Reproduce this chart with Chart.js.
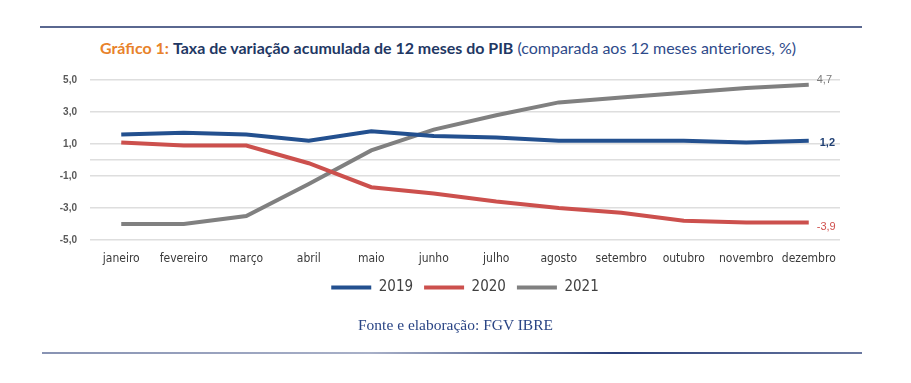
<!DOCTYPE html>
<html><head><meta charset="utf-8">
<script src="https://cdn.jsdelivr.net/npm/chart.js@4.4.0/dist/chart.umd.min.js"></script>
<style>
html,body{margin:0;padding:0;background:#fff;width:911px;height:383px;overflow:hidden}
#wrap{position:relative;width:911px;height:383px}
canvas{position:absolute;left:0;top:0}
.rule{position:absolute;height:2px}
#title{position:absolute;left:100px;top:40px;white-space:nowrap;font-family:Lato,'Open Sans',sans-serif;font-size:15px;line-height:16px}
#src{position:absolute;top:317px;white-space:nowrap;font-family:'Liberation Serif',serif;font-size:15px;line-height:16px;color:#2a4585;transform-origin:0 0}
</style></head>
<body><div id="wrap">
<div class="rule" style="left:40px;top:26px;width:822px;background:#5a6890"></div>
<div id="title"><span style="color:#e8822a;font-weight:bold">Gráfico 1:</span> <span style="color:#1f3864;font-weight:bold">Taxa de variação acumulada de 12 meses do PIB</span> <span style="color:#2e4a8a">(comparada aos 12 meses anteriores, %)</span></div>
<canvas id="c" width="911" height="383"></canvas>
<div id="src">Fonte e elaboração: FGV IBRE</div>
<div class="rule" style="left:42px;top:352px;width:820px;background:linear-gradient(90deg,#8893b3,#a8b0c8 40%,#2a3f7a 70%,#6a78a0)"></div>
</div>
<script>
const categories = ['janeiro','fevereiro','março','abril','maio','junho','julho','agosto','setembro','outubro','novembro','dezembro'];
const seriesNames = ['2019','2020','2021'];
const values2019 = [1.6,1.7,1.6,1.2,1.8,1.5,1.4,1.2,1.2,1.2,1.1,1.2];
const values2020 = [1.1,0.9,0.9,-0.2,-1.7,-2.1,-2.6,-3.0,-3.3,-3.8,-3.9,-3.9];
const values2021 = [-4.0,-4.0,-3.5,-1.5,0.6,1.9,2.8,3.6,3.9,4.2,4.5,4.7];
const yTicks = [-5,-3,-1,0,1,3,5];

const fmt = v => v.toFixed(1).replace('.', ',');

(function(){
  const t = document.getElementById('title');
  const w = t.getBoundingClientRect().width;
  t.style.fontSize = (15 * 697 / w) + 'px';
  const s = document.getElementById('src');
  const sw = s.getBoundingClientRect().width;
  s.style.transform = 'scaleX(' + (195 / sw) + ')';
  s.style.left = (455 - 195/2) + 'px';
})();

const endLabels = {
  id: 'endLabels',
  afterDatasetsDraw(chart) {
    const ctx = chart.ctx;
    chart.data.datasets.forEach((ds, i) => {
      const meta = chart.getDatasetMeta(i);
      const pt = meta.data[meta.data.length - 1];
      const v = ds.data[ds.data.length - 1];
      ctx.save();
      ctx.font = ds.endFont;
      ctx.fillStyle = ds.endColor;
      ctx.textBaseline = 'middle';
      ctx.textAlign = 'left';
      ctx.fillText(fmt(v), pt.x + ds.endDx, pt.y + ds.endDy);
      ctx.restore();
    });
  }
};

const defGen = Chart.defaults.plugins.legend.labels.generateLabels;

new Chart(document.getElementById('c'), {
  type: 'line',
  data: {
    labels: categories,
    datasets: [
      {label: seriesNames[0], data: values2019, borderColor: '#23508f', backgroundColor: '#23508f', borderWidth: 4, pointRadius: 0, tension: 0,
       endFont: 'bold 11px "Liberation Sans", sans-serif', endColor: '#1f3f73', endDx: 11, endDy: 2},
      {label: seriesNames[1], data: values2020, borderColor: '#cc504d', backgroundColor: '#cc504d', borderWidth: 4, pointRadius: 0, tension: 0,
       endFont: '11px "Liberation Sans", sans-serif', endColor: '#d0504d', endDx: 8, endDy: 5},
      {label: seriesNames[2], data: values2021, borderColor: '#808080', backgroundColor: '#808080', borderWidth: 4, pointRadius: 0, tension: 0,
       endFont: '11px "Liberation Sans", sans-serif', endColor: '#7a7a7a', endDx: 8, endDy: -5}
    ]
  },
  options: {
    responsive: false,
    animation: false,
    layout: {padding: {left: 40, right: 71, top: 80, bottom: 78}},
    plugins: {
      legend: {
        position: 'bottom',
        fullSize: false,
        labels: {
          boxWidth: 40, boxHeight: 4, padding: 11,
          color: '#404040',
          font: {family: '"Liberation Sans Narrow", "DejaVu Sans Condensed", sans-serif', size: 15},
          generateLabels: chart => defGen(chart).map(l => Object.assign(l, {lineWidth: 0}))
        }
      },
      tooltip: {enabled: false}
    },
    scales: {
      x: {
        offset: true,
        grid: {display: false, drawTicks: false},
        border: {display: false},
        ticks: {color: '#3a3a3a', padding: 12, maxRotation: 0, autoSkip: false,
          font: {family: '"Liberation Sans Narrow", "DejaVu Sans Condensed", sans-serif', size: 12}},
        afterFit: s => { s.height = 29; }
      },
      y: {
        min: -5, max: 5,
        afterBuildTicks: s => { s.ticks = yTicks.map(v => ({value: v})); },
        grid: {color: '#dedede', lineWidth: 1.5, drawTicks: false},
        border: {display: false},
        ticks: {color: '#595959', padding: 13, callback: v => v === 0 ? '' : fmt(v),
          font: {family: '"Liberation Sans", sans-serif', size: 10, weight: 'bold'}},
        afterFit: s => { s.width = 50; }
      }
    }
  },
  plugins: [endLabels]
});
</script>
</body></html>
